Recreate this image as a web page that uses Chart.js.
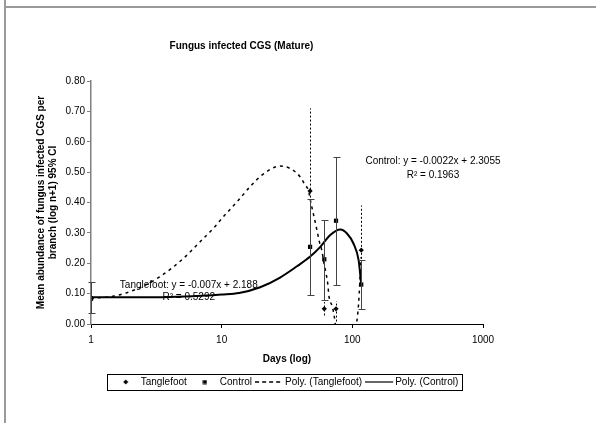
<!DOCTYPE html>
<html>
<head>
<meta charset="utf-8">
<script src="https://cdn.jsdelivr.net/npm/chart.js@4.4.0/dist/chart.umd.min.js"></script>
<style>
  html, body { margin: 0; padding: 0; background: #fff; }
  #wrap { position: relative; width: 596px; height: 423px; }
  .rule { position: absolute; background: #9a9a9a; }
</style>
</head>
<body>
<div id="wrap">
  <canvas id="fungusChart" width="596" height="423"></canvas>
  <div class="rule" style="left:4px;top:0;width:2px;height:423px"></div>
  <div class="rule" style="left:6px;top:6px;width:590px;height:2px"></div>
</div>
<script>
// sampling days and means
const days = [1, 47.5, 61, 75, 117];
const tanglefoot = [0.080, 0.438, 0.050, 0.050, 0.243];
const tanglefootLow = [0.050, 0.166, 0.028, 0.008, 0.096];
const tanglefootHigh = [0.110, 0.710, 0.072, 0.075, 0.390];
const control = [0.085, 0.254, 0.213, 0.340, 0.130];
const controlLow = [0.035, 0.097, 0.079, 0.128, 0.049];
const controlHigh = [0.139, 0.410, 0.342, 0.549, 0.210];

// trend curves as drawn on the original
const polyTanglefootDays = [1, 1.5, 2.24, 3.35, 5.1, 6.84, 8.65, 10.3, 13.1, 16.5, 20.3, 28, 33.4, 39.8, 43.4, 46,
  48.3, 50.9, 53.9, 55.9, 58.3, 60.7, 62.9, 64.8, 66.3, 70.3, 72.8, 74, 80, 90, 100, 108.6, 111.7, 116.7];
const polyTanglefoot = [0.085, 0.092, 0.115, 0.155, 0.216, 0.271, 0.315, 0.353, 0.402, 0.452, 0.490, 0.520, 0.512, 0.485, 0.458, 0.441,
  0.397, 0.353, 0.304, 0.271, 0.244, 0.200, 0.167, 0.134, 0.090, 0.057, 0.024, 0.000, -0.060, -0.100, -0.070, 0.013, 0.068, 0.220];
const polyControlDays = [1, 2, 4, 7, 10, 13.6, 19.7, 28, 37.7, 47.6, 56.9, 67.8, 80.9, 91, 102, 111.7, 117];
const polyControl = [0.088, 0.088, 0.089, 0.093, 0.097, 0.102, 0.121, 0.153, 0.190, 0.222, 0.254, 0.293, 0.311, 0.298, 0.265, 0.210, 0.130];

const xTicks = [1, 10, 100, 1000];
const yTitle = ['Mean abundance of fungus infected CGS per', 'branch (log n+1) 95% CI'];

// equation labels: text, day, value
const trendLabels = [
  ['Tanglefoot: y = -0.007x + 2.188', 5.6, 0.126],
  ['R² = 0.5292', 5.6, 0.088],
  ['Control: y = -0.0022x + 2.3055', 414, 0.537],
  ['R² = 0.1963', 414, 0.490]
];

const font = "'Liberation Sans', Arial, sans-serif";
Chart.defaults.font.family = font;
Chart.defaults.color = '#000';

function toPoints(xs, ys) {
  return xs.map((x, i) => ({ x: x, y: ys[i] }));
}

function makeIcon(w, h, draw) {
  const c = document.createElement('canvas');
  c.width = w;
  c.height = h;
  draw(c.getContext('2d'));
  return c;
}

const icons = [
  makeIcon(6, 6, g => {
    g.beginPath();
    g.moveTo(3, 0.5); g.lineTo(5.5, 3); g.lineTo(3, 5.5); g.lineTo(0.5, 3);
    g.closePath();
    g.fill();
  }),
  makeIcon(5, 5, g => { g.fillRect(0.5, 0.5, 4, 4); }),
  makeIcon(30, 4, g => {
    g.lineWidth = 1.5;
    g.setLineDash([4, 3]);
    g.beginPath(); g.moveTo(0, 2); g.lineTo(28, 2); g.stroke();
  }),
  makeIcon(30, 4, g => {
    g.lineWidth = 1.2;
    g.beginPath(); g.moveTo(0, 2); g.lineTo(28, 2); g.stroke();
  })
];

// 95% CI bars: dotted for Tanglefoot, capped for Control
const errorBars = {
  id: 'errorBars',
  afterDatasetsDraw(chart) {
    const { ctx, scales: { x, y } } = chart;
    ctx.save();
    ctx.lineWidth = 1;
    ctx.strokeStyle = '#000';
    ctx.setLineDash([2, 2]);
    days.forEach((d, i) => {
      const px = Math.round(x.getPixelForValue(d)) + 0.5;
      ctx.beginPath();
      ctx.moveTo(px, y.getPixelForValue(tanglefootLow[i]));
      ctx.lineTo(px, y.getPixelForValue(tanglefootHigh[i]));
      ctx.stroke();
    });
    ctx.setLineDash([]);
    ctx.strokeStyle = '#444';
    days.forEach((d, i) => {
      const px = Math.round(x.getPixelForValue(d)) + 0.5;
      const lo = Math.round(y.getPixelForValue(controlLow[i])) + 0.5;
      const hi = Math.round(y.getPixelForValue(controlHigh[i])) + 0.5;
      ctx.beginPath();
      ctx.moveTo(px, lo); ctx.lineTo(px, hi);
      ctx.moveTo(px - 3, lo); ctx.lineTo(px + 4, lo);
      ctx.moveTo(px - 3, hi); ctx.lineTo(px + 4, hi);
      ctx.stroke();
    });
    ctx.restore();
  }
};

const equationText = {
  id: 'equationText',
  afterDatasetsDraw(chart) {
    const { ctx, scales: { x, y } } = chart;
    ctx.save();
    ctx.font = '10px ' + font;
    ctx.fillStyle = '#000';
    ctx.textAlign = 'center';
    ctx.textBaseline = 'middle';
    trendLabels.forEach(([t, d, v]) => ctx.fillText(t, x.getPixelForValue(d), y.getPixelForValue(v)));
    ctx.restore();
  }
};

const legendFrame = {
  id: 'legendFrame',
  afterDraw(chart) {
    const boxes = chart.legend.legendHitBoxes;
    if (!boxes || !boxes.length) return;
    const first = boxes[0];
    const last = boxes[boxes.length - 1];
    const { ctx } = chart;
    const l = Math.round(first.left - 9) + 0.5;
    const r = Math.round(last.left + last.width + 4) + 0.5;
    const t = Math.round(first.top - 3) + 0.5;
    const b = Math.round(first.top + first.height + 3) + 0.5;
    ctx.save();
    ctx.strokeStyle = '#000';
    ctx.lineWidth = 1;
    ctx.strokeRect(l, t, r - l, b - t);
    ctx.restore();
  }
};

new Chart(document.getElementById('fungusChart'), {
  type: 'scatter',
  data: {
    datasets: [
      {
        label: 'Tanglefoot',
        data: toPoints(days, tanglefoot),
        pointStyle: 'rectRot',
        pointRadius: 2.6,
        backgroundColor: '#000',
        borderColor: '#000',
        borderWidth: 0
      },
      {
        label: 'Control',
        data: toPoints(days, control),
        pointStyle: 'rect',
        pointRadius: 3,
        backgroundColor: '#000',
        borderColor: '#000',
        borderWidth: 0
      },
      {
        label: 'Poly. (Tanglefoot)',
        data: toPoints(polyTanglefootDays, polyTanglefoot),
        showLine: true,
        pointRadius: 0,
        borderColor: '#000',
        borderWidth: 1.5,
        borderDash: [3, 4],
        cubicInterpolationMode: 'monotone',
        fill: false
      },
      {
        label: 'Poly. (Control)',
        data: toPoints(polyControlDays, polyControl),
        showLine: true,
        pointRadius: 0,
        borderColor: '#000',
        borderWidth: 2,
        cubicInterpolationMode: 'monotone',
        fill: false
      }
    ]
  },
  options: {
    responsive: false,
    animation: false,
    layout: { padding: { top: 0, left: 0, right: 113, bottom: 26 } },
    plugins: {
      title: {
        display: true,
        text: 'Fungus infected CGS (Mature)',
        color: '#000',
        font: { size: 10, weight: 'bold' },
        padding: { top: 40, bottom: 29 }
      },
      legend: {
        position: 'bottom',
        fullSize: false,
        labels: {
          usePointStyle: true,
          pointStyleWidth: 20,
          padding: 8,
          color: '#000',
          font: { size: 10 },
          generateLabels: chart => chart.data.datasets.map((ds, i) => ({
            text: ds.label,
            pointStyle: icons[i],
            datasetIndex: i,
            hidden: false,
            lineWidth: 0,
            fillStyle: '#000',
            strokeStyle: '#000',
            fontColor: '#000'
          }))
        }
      },
      tooltip: { enabled: false }
    },
    scales: {
      x: {
        type: 'logarithmic',
        min: 1,
        max: 1000,
        afterBuildTicks: s => { s.ticks = xTicks.map(v => ({ value: v })); },
        afterFit: s => { s.height = 45; },
        ticks: { callback: v => String(v), color: '#000', font: { size: 10 }, padding: 6, maxRotation: 0, autoSkip: false },
        grid: { drawOnChartArea: false, tickLength: 4, color: '#000' },
        border: { color: '#000' },
        title: { display: true, text: 'Days (log)', color: '#000', font: { size: 10, weight: 'bold' }, padding: { top: 0, bottom: 4 } }
      },
      y: {
        min: 0,
        max: 0.8,
        afterFit: s => { s.width = 91; },
        ticks: { stepSize: 0.1, callback: v => v.toFixed(2), color: '#000', font: { size: 10 }, padding: 2 },
        grid: { drawOnChartArea: false, tickLength: 4, color: '#808080' },
        border: { color: '#808080', width: 1.5 },
        title: { display: true, text: yTitle, color: '#000', font: { size: 10, weight: 'bold', lineHeight: 1.2 }, padding: { top: 35, bottom: 0 } }
      }
    }
  },
  plugins: [errorBars, equationText, legendFrame]
});
</script>
</body>
</html>
